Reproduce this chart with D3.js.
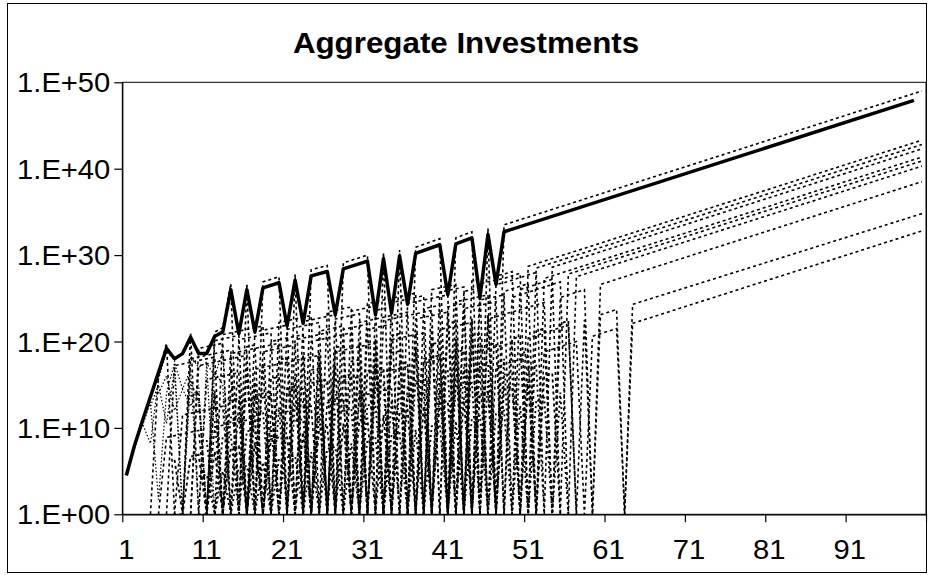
<!DOCTYPE html>
<html>
<head>
<meta charset="utf-8">
<script src="https://cdn.jsdelivr.net/npm/d3@7"></script>
<style>
  html, body { margin: 0; padding: 0; background: #fff; }
  svg { display: block; }
  text { font-family: Arial, "Liberation Sans", sans-serif; fill: #000; }
</style>
</head>
<body>
<svg id="chart" width="928" height="575"></svg>
<script>
// every value below is log10 of the investment
// 0 = investment wiped out (it sits on the axis floor)
const xTickLabels = ['1', '11', '21', '31', '41', '51', '61', '71', '81', '91'];
const yTickExps = [0, 10, 20, 30, 40, 50];

// thick line: [period, log10 value]
const aggregate = [[1,4.5],[2,7.9],[3,10.8],[4,13.6],[5,16.4],[6,19.2],[7,18.0],[8,18.6],[9,20.5],[10,18.6],
  [11,18.6],[12,20.6],[13,21.1],[14,26.0],[15,20.9],[16,26.0],[17,21.1],[18,26.2],[20,26.8],[21,21.8],
  [22,27.1],[23,22.1],[24,27.6],[26,28.1],[27,23.1],[28,28.4],[31,29.3],[32,23.1],[33,29.6],[34,23.3],
  [35,29.9],[36,24.3],[37,30.2],[40,31.2],[41,25.4],[42,31.3],[44,32.0],[45,25.1],[46,32.4],[47,26.6],
  [48,32.7],[99,47.9]];

// the top investor, just above the aggregate at the peaks
const leader = [[4,0],[5,16.2],[6,19.8],[7,0],[8,0],[9,21.0],[10,0],[11,0],[12,21.1],[13,21.6],[14,26.7],
  [15,0],[16,26.7],[17,0],[18,26.9],[20,27.5],[21,0],[22,27.8],[23,0],[24,28.3],[26,28.8],[27,0],[28,29.1],
  [31,30.0],[32,0],[33,30.3],[34,0],[35,30.6],[36,0],[37,30.9],[40,31.9],[41,0],[42,32.0],[44,32.7],
  [45,0],[46,33.1],[47,0],[48,33.5],[100,49.0]];

// investors that survive to period 100
const survivors = [
  [[12,0],[13,20.8],[18,21.8],[19,0],[20,22.2],[24,23.0],[25,0],[26,23.4],[29,24.0],[30,0],[31,24.4],[37,25.6],
   [38,0],[39,26.0],[42,26.6],[43,0],[44,27.0],[48,27.8],[49,28.1],[50,0],[51,28.7],[100,43.3]],
  [[11,0],[12,20.1],[15,20.7],[16,0],[17,21.1],[21,21.9],[22,0],[23,22.3],[27,23.1],[28,0],[29,23.5],[32,24.1],
   [33,0],[34,24.5],[38,25.3],[39,0],[40,25.7],[43,26.3],[44,0],[45,26.7],[48,27.3],[50,27.9],[51,0],[52,28.5],[100,42.8]],
  [[9,0],[10,19.2],[13,19.8],[14,0],[15,20.2],[19,21.0],[20,0],[21,21.4],[25,22.2],[26,0],[27,22.6],[30,23.2],
   [31,0],[32,23.6],[34,24.0],[35,0],[36,24.4],[41,25.4],[42,0],[43,25.8],[45,26.2],[46,0],[47,26.6],[48,26.8],
   [52,28.0],[53,0],[54,28.6],[100,42.3]],
  [[8,0],[9,18.0],[14,19.0],[15,0],[16,19.4],[17,19.6],[18,0],[19,20.0],[23,20.8],[24,0],[25,21.2],[28,21.8],
   [29,0],[30,22.2],[36,23.4],[37,0],[38,23.8],[40,24.2],[41,0],[42,24.6],[46,25.4],[47,0],[48,25.8],[51,26.7],
   [52,0],[53,27.3],[100,41.35]],
  [[6,0],[7,17.2],[12,18.2],[13,0],[14,18.6],[20,19.8],[21,0],[22,20.2],[26,21.0],[27,0],[28,21.4],[31,22.0],
   [32,0],[33,22.4],[39,23.6],[40,0],[41,24.0],[43,24.4],[44,0],[45,24.8],[48,25.4],[49,0],[50,26.0],[54,27.2],
   [55,0],[56,27.8],[100,40.9]],
  [[9,0],[10,17.2],[16,18.4],[17,0],[18,18.8],[22,19.6],[23,0],[24,20.0],[29,21.0],[30,0],[31,21.4],[35,22.2],
   [36,0],[37,22.6],[41,23.4],[42,0],[43,23.8],[47,24.6],[48,0],[49,25.1],[55,26.9],[56,0],[57,27.5],[100,40.3]],
  [[10,0],[11,15.6],[15,16.4],[16,0],[17,16.8],[25,18.4],[26,0],[27,18.8],[32,19.8],[33,0],[34,20.2],[38,21.0],
   [39,0],[40,21.4],[44,22.2],[45,0],[46,22.6],[53,24.5],[54,0],[55,25.1],[58,26.0],[59,0],[60,26.6],[100,38.5]],
  [[7,0],[8,11.5],[13,12.5],[14,0],[15,12.9],[19,13.7],[20,0],[21,14.1],[23,14.5],[24,0],[25,14.9],[30,15.9],
   [31,0],[32,16.3],[36,17.1],[37,0],[38,17.5],[42,18.3],[43,0],[44,18.7],[49,19.8],[50,0],[51,20.4],[56,21.9],
   [57,0],[58,22.5],[59,0],[60,23.1],[62,23.7],[63,0],[64,24.3],[100,34.8]],
  [[5,0],[6,8.9],[10,9.7],[11,0],[12,10.1],[17,11.1],[18,0],[19,11.5],[24,12.5],[25,0],[26,12.9],[28,13.3],
   [29,0],[30,13.7],[34,14.5],[35,0],[36,14.9],[40,15.7],[41,0],[42,16.1],[45,16.7],[46,0],[47,17.1],[51,18.2],
   [52,0],[53,18.8],[57,20.0],[58,0],[59,20.6],[62,21.5],[63,0],[64,22.1],[100,32.8]]
];

// investors that are wiped out for good: [first period, values for each period from there]
const failed = [
  [9, [13.7,13.9,0,14.3,0,14.7,14.9,0,15.3,0,15.7,15.9,0,16.3,0,16.7,16.9,0,17.3,0,17.7,17.9,0,18.3,0,18.7,18.9,0,19.3,0,19.7,19.9,0,20.3,0,20.7,20.9,0]],
  [12, [10.8,0,11.2,11.4,0,11.8,12.0,0,12.4,0,12.8,13.0,0,13.4,0,13.8,14.0,0,14.4,0,14.8,15.0,0,15.4,0,15.8,16.0,0,16.4,16.6,0,17.0,0,17.4,17.6,0,18.0,0,18.6,18.9,0]],
  [7, [6.3,0,6.7,6.9,0,7.3,0,7.7,7.9,0,8.3,0,8.7,8.9,9.1,0,9.5,0,9.9,10.1,0,10.5,0,10.9,11.1,0,11.5,0,11.9,12.1,0,12.5,0,12.9,13.1,0,13.5,0,13.9,14.1,0,14.5,14.8,0,15.4,0,16.0,16.3,0]],
  [10, [4.4,4.6,0,5.0,0,5.4,5.6,0,6.0,0,6.4,6.6,6.8,0,7.2,0,7.6,7.8,0,8.2,0,8.6,8.8,0,9.2,9.4,0,9.8,0,10.2,10.4,0,10.8,0,11.2,11.4,0,11.8,12.0,0,12.6,0,13.2,13.5,0,14.1,0]],
  [13, [13.0,13.2,13.4,0,13.8,14.0,14.2,0,14.6,14.8,0,15.2,15.4,15.6,0,16.0,16.2,0,16.6,16.8,17.0,0,17.4,17.6,0,18.0,18.2,18.4,0,18.8,19.0,0,19.4,19.6,19.8,0,20.3,20.6,0,21.2,21.5,0,22.1,22.4,0]],
  [11, [8.6,0,9.0,9.2,0,9.6,9.8,0,10.2,0,10.6,10.8,11.0,0,11.4,0,11.8,12.0,12.2,0,12.6,12.8,0,13.2,0,13.6,13.8,14.0,0,14.4,0,14.8,15.0,15.2,0,15.6,0,16.0,16.3,0,16.9,17.2,0]],
  [14, [16.7,0,17.1,0,17.5,0,17.9,18.1,0,18.5,0,18.9,0,19.3,19.5,0,19.9,0,20.3,0,20.7,20.9,0,21.3,0,21.7,0,22.1,22.3,0,22.7,0,23.1,0]]
];

// the first few periods, before the comb starts
const early = [
  [2, [7.6,10.5,8.2,15.6,18.9,17.8,0.5,18.3,17.0,17.6,0]],
  [3, [10.2,13.0,1.7,14.0,17.5,14.5,16.8,0,17.5,16.0,18.8,0]],
  [4, [12.5,15.0,10.5,16.8,0,15.5,13.0,0.3,16.5,15.0,0]],
  [5, [14.0,16.0,12.0,14.5,12.5,15.0,0,14.0,0]]
];

const svg = d3.select('#chart');
const plot = {left: 122.3, right: 926, top: 82.3, bottom: 514.3};
const STRETCH = 1.08; // the picture is a little wider than tall

const x = d3.scaleLinear().domain([0.5, 100.5]).range([plot.left, plot.right]);
const y = d3.scaleLog().domain([1, 1e50]).range([plot.bottom, plot.top]);

const line = d3.line()
  .x(d => x(d[0]))
  .y(d => y(Math.pow(10, d[1])));

const fromRun = ([start, vals]) => vals.map((v, i) => [start + i, v]);

// chart border
svg.append('rect')
  .attr('x', 7.5).attr('y', 3.5)
  .attr('width', 919).attr('height', 569)
  .attr('fill', 'none').attr('stroke', '#000').attr('stroke-width', 1);

// title
svg.append('text')
  .attr('transform', `translate(466,53) scale(${STRETCH},1)`)
  .attr('text-anchor', 'middle')
  .attr('font-size', 29).attr('font-weight', 'bold')
  .text('Aggregate Investments');

svg.append('clipPath').attr('id', 'clip')
  .append('rect')
  .attr('x', plot.left).attr('y', plot.top)
  .attr('width', plot.right - plot.left).attr('height', plot.bottom - plot.top);

const g = svg.append('g').attr('clip-path', 'url(#clip)');

// plot area frame
svg.append('rect')
  .attr('x', plot.left).attr('y', plot.top)
  .attr('width', plot.right - plot.left).attr('height', plot.bottom - plot.top)
  .attr('fill', 'none').attr('stroke', '#000').attr('stroke-width', 1);

g.selectAll('.early')
  .data(early.map(fromRun))
  .enter().append('path')
    .attr('class', 'early')
    .attr('d', line)
    .attr('fill', 'none').attr('stroke', '#000')
    .attr('stroke-width', 1.2).attr('stroke-dasharray', '1.5,2');

g.selectAll('.failed')
  .data(failed.map(fromRun))
  .enter().append('path')
    .attr('class', 'failed')
    .attr('d', line)
    .attr('fill', 'none').attr('stroke', '#000')
    .attr('stroke-width', 1.8)
    .attr('stroke-dasharray', (d, i) => i % 2 ? '2,3' : '3,3');

g.selectAll('.survivor')
  .data(survivors)
  .enter().append('path')
    .attr('class', 'survivor')
    .attr('d', line)
    .attr('fill', 'none').attr('stroke', '#000')
    .attr('stroke-width', 1.6).attr('stroke-dasharray', '3,3');

g.append('path')
  .datum(leader)
  .attr('d', line)
  .attr('fill', 'none').attr('stroke', '#000')
  .attr('stroke-width', 1.6).attr('stroke-dasharray', '3,3');

g.append('path')
  .datum(aggregate)
  .attr('d', line)
  .attr('fill', 'none').attr('stroke', '#000')
  .attr('stroke-width', 3.5).attr('stroke-linejoin', 'round');

// y axis
const yAxis = d3.axisLeft(y)
  .tickValues(yTickExps.map(e => Math.pow(10, e)))
  .tickFormat(d => '1.E+' + String(Math.round(Math.log10(d))).padStart(2, '0'))
  .tickSize(8).tickSizeOuter(0);
const ya = svg.append('g').attr('transform', `translate(${plot.left},0)`).call(yAxis);
ya.selectAll('text')
  .attr('x', 0).attr('dy', null).attr('y', 9.5)
  .attr('transform', `translate(-12,0) scale(${STRETCH},1)`)
  .attr('font-size', 27).attr('font-family', 'Arial, "Liberation Sans", sans-serif');

// x axis: marks between every 10 periods, labels on periods 1, 11, ...
const xAxis = d3.axisBottom(x)
  .tickValues(d3.range(0.5, 101, 10))
  .tickFormat('')
  .tickSize(8).tickSizeOuter(0);
svg.append('g').attr('transform', `translate(0,${plot.bottom})`).call(xAxis);

svg.append('g').selectAll('text')
  .data(xTickLabels)
  .enter().append('text')
    .attr('transform', d => `translate(${x(+d)},559) scale(${STRETCH},1)`)
    .attr('text-anchor', 'middle')
    .attr('font-size', 27)
    .text(d => d);

svg.selectAll('.domain, .tick line').attr('stroke', '#000').attr('stroke-width', 1.2);
</script>
</body>
</html>
